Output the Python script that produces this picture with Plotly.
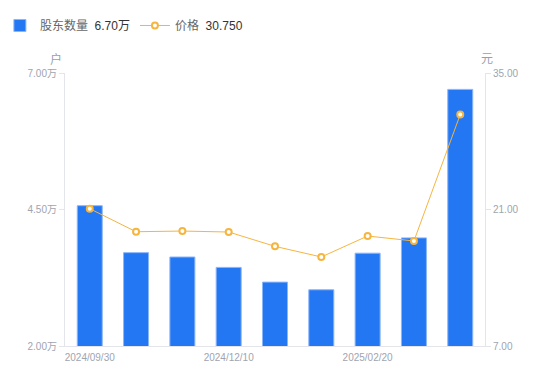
import plotly.graph_objects as go

dates = ["2024/09/30", "2024/10/31", "2024/11/20", "2024/12/10", "2024/12/31",
         "2025/01/20", "2025/02/20", "2025/02/28", "2025/03/31"]
holders_wan = [4.57, 3.71, 3.63, 3.44, 3.17, 3.03, 3.70, 3.98, 6.70]
price = [21.08, 18.72, 18.79, 18.69, 17.22, 16.13, 18.28, 17.77, 30.75]

shown_ticks = ["2024/09/30", "2024/12/10", "2025/02/20"]
left_ticks = [2.0, 4.5, 7.0]
right_ticks = [7.0, 21.0, 35.0]

font_family = "Liberation Sans, Noto Sans CJK SC, sans-serif"
axis_color = "#e3e5ea"
label_color = "#a0a4b0"

fig = go.Figure()
fig.add_trace(go.Bar(
    x=dates, y=holders_wan, yaxis="y",
    name="股东数量  <span style='color:#333'>%.2f万</span>" % holders_wan[-1],
    marker=dict(color="#2477f3", line=dict(color="#8ab6fa", width=1)),
))
fig.add_trace(go.Scatter(
    x=dates, y=price, yaxis="y2", mode="lines+markers",
    name="价格  <span style='color:#333'>%.3f</span>" % price[-1],
    line=dict(color="#f6b53f", width=1),
    marker=dict(symbol="circle", size=6, color="white",
                line=dict(color="#f6b53f", width=2)),
))

fig.update_layout(
    width=550, height=381,
    margin=dict(l=57, r=73, t=65, b=43, autoexpand=False),
    paper_bgcolor="white", plot_bgcolor="white",
    font=dict(family=font_family, size=11, color=label_color),
    bargap=0.46,
    showlegend=True,
    legend=dict(orientation="h", x=-0.155, xanchor="left", y=1.174, yanchor="middle",
                font=dict(size=12, color="#666"), itemwidth=30,
                traceorder="normal", itemclick=False),
    xaxis=dict(type="category", tickmode="array", tickvals=shown_ticks, ticktext=shown_ticks,
               showline=True, linecolor=axis_color, linewidth=1, ticks="",
               showgrid=False, tickfont=dict(size=10, color=label_color), ticklabelstandoff=2,
               automargin=False),
    yaxis=dict(range=[2, 7], tickmode="array", tickvals=left_ticks,
               ticktext=["%.2f万" % v for v in left_ticks],
               showline=True, linecolor=axis_color, linewidth=1,
               ticks="outside", ticklen=5, tickcolor=axis_color, automargin=False,
               showgrid=False, zeroline=False, tickfont=dict(size=10, color=label_color)),
    yaxis2=dict(range=[7, 35], overlaying="y", side="right", tickmode="array",
                tickvals=right_ticks, ticktext=["%.2f" % v for v in right_ticks],
                showline=True, linecolor=axis_color, linewidth=1, automargin=False,
                ticks="outside", ticklen=5, tickcolor=axis_color,
                showgrid=False, zeroline=False, tickfont=dict(size=10, color=label_color)),
    annotations=[
        dict(text="户", xref="paper", yref="paper", x=0, y=1, xanchor="center",
             xshift=-9, yshift=23, showarrow=False, font=dict(size=12, color="#9a9eaa")),
        dict(text="元", xref="paper", yref="paper", x=1, y=1, xanchor="center",
             xshift=2, yshift=23, showarrow=False, font=dict(size=12, color="#9a9eaa")),
    ],
)

fig.write_html("out.html")
